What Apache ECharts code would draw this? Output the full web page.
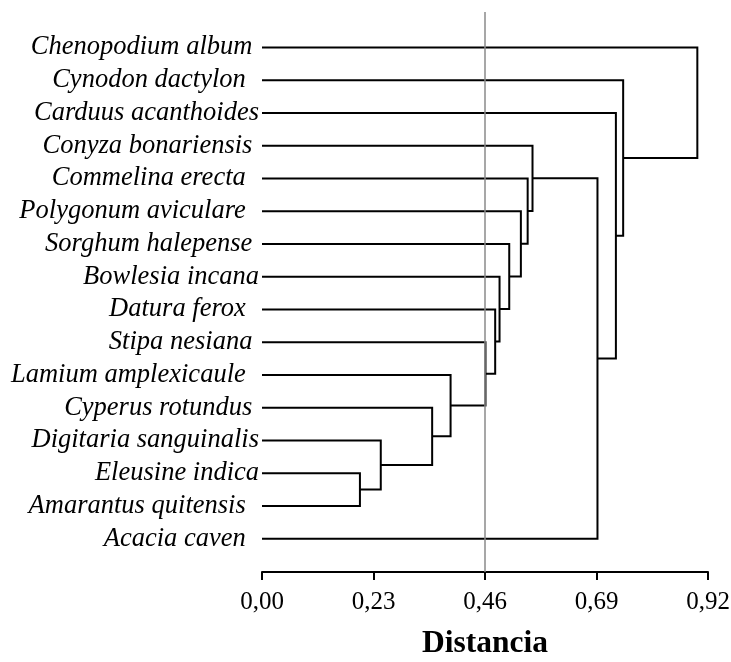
<!DOCTYPE html>
<html>
<head>
<meta charset="utf-8">
<script src="https://cdn.jsdelivr.net/npm/echarts@6/dist/echarts.min.js"></script>
<style>
html, body { margin: 0; padding: 0; background: #fff; }
#main { width: 731px; height: 662px; }
</style>
</head>
<body>
<div id="main"></div>
<script>
// leaves, top to bottom
var leaves = [
    'Chenopodium album ', 'Cynodon dactylon  ', 'Carduus acanthoides', 'Conyza bonariensis ',
    'Commelina erecta  ', 'Polygonum aviculare  ', 'Sorghum halepense ', 'Bowlesia incana',
    'Datura ferox  ', 'Stipa nesiana ', 'Lamium amplexicaule  ', 'Cyperus rotundus ',
    'Digitaria sanguinalis', 'Eleusine indica', 'Amarantus quitensis  ', 'Acacia caven  '
];
// merges: node 16 + k joins mergeA[k] and mergeB[k] at mergeHeight[k]
var mergeA = [13, 12, 11, 10, 9, 8, 7, 6, 5, 4, 3, 26, 2, 1, 0];
var mergeB = [14, 16, 17, 18, 19, 20, 21, 22, 23, 24, 25, 15, 27, 28, 29];
var mergeHeight = [0.202, 0.245, 0.351, 0.389, 0.461, 0.481, 0.490, 0.510, 0.534, 0.548, 0.558, 0.692, 0.730, 0.745, 0.898];
var xTicks = [0, 0.23, 0.46, 0.69, 0.92];
var cutLevel = 0.46;

window.onload = function () {
    var nodeX = [], nodeY = [];
    for (var i = 0; i < leaves.length; i++) { nodeX.push(0); nodeY.push(i); }
    for (var k = 0; k < mergeHeight.length; k++) {
        nodeX.push(mergeHeight[k]);
        nodeY.push((nodeY[mergeA[k]] + nodeY[mergeB[k]]) / 2);
    }

    var mergeData = mergeHeight.map(function (h, k) { return [k, h]; });
    var step = xTicks[1] - xTicks[0];

    var option = {
        animation: false,
        grid: { left: 262, right: 23, top: 31, bottom: 107, containLabel: false, outerBoundsMode: 'none' },
        xAxis: {
            type: 'value',
            min: xTicks[0],
            max: xTicks[xTicks.length - 1],
            interval: step,
            offset: 17,
            axisLine: { onZero: false, lineStyle: { color: '#000', width: 2 } },
            axisTick: { length: 8, lineStyle: { color: '#000', width: 2 } },
            splitLine: { show: false },
            axisLabel: {
                margin: 18,
                color: '#000',
                fontFamily: 'Liberation Serif',
                fontSize: 25,
                formatter: function (v) { return v.toFixed(2).replace('.', ','); }
            },
            name: 'Distancia',
            nameLocation: 'middle',
            nameGap: 56,
            nameTextStyle: { color: '#000', fontFamily: 'Liberation Serif', fontWeight: 'bold', fontSize: 31.5 }
        },
        yAxis: [{
            type: 'category',
            data: leaves,
            inverse: true,
            axisLine: { show: false },
            axisTick: { show: false },
            axisLabel: {
                interval: 0,
                margin: 3,
                color: '#000',
                fontFamily: 'Liberation Serif',
                fontStyle: 'italic',
                fontSize: 26.5
            }
        }, {
            type: 'value',
            min: -0.5,
            max: leaves.length - 0.5,
            inverse: true,
            show: false
        }],
        series: [{
            type: 'custom',
            yAxisIndex: 1,
            encode: { x: 1 },
            data: mergeData,
            renderItem: function (params, api) {
                var k = api.value(0);
                var a = mergeA[k], b = mergeB[k], h = mergeHeight[k];
                return {
                    type: 'polyline',
                    shape: { points: [
                        api.coord([nodeX[a], nodeY[a]]),
                        api.coord([h, nodeY[a]]),
                        api.coord([h, nodeY[b]]),
                        api.coord([nodeX[b], nodeY[b]])
                    ] },
                    style: { stroke: '#000', lineWidth: 2, fill: null }
                };
            }
        }, {
            type: 'custom',
            yAxisIndex: 1,
            encode: { x: 0 },
            clip: false,
            data: [[cutLevel]],
            renderItem: function (params, api) {
                var x = api.coord([api.value(0), 0])[0];
                var cs = params.coordSys;
                return {
                    type: 'line',
                    shape: { x1: x, y1: cs.y - 19, x2: x, y2: cs.y + cs.height + 17 },
                    style: { stroke: '#8a8a8a', lineWidth: 1.5 }
                };
            }
        }]
    };

    var myChart = echarts.init(document.getElementById('main'));
    myChart.setOption(option);
};
</script>
</body>
</html>
